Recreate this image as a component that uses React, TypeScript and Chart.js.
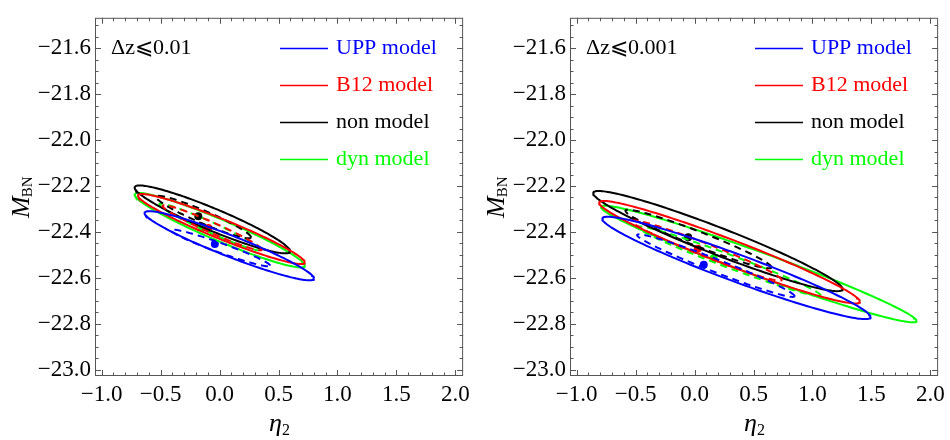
import React, { useEffect, useRef } from "react";
import { Chart, registerables } from "chart.js";

Chart.register(...registerables);

// ---------- data ----------
const xTickValues = [-1.0, -0.5, 0.0, 0.5, 1.0, 1.5, 2.0];
const yTickValues = [-21.6, -21.8, -22.0, -22.2, -22.4, -22.6, -22.8, -23.0];
const xRange = [-1.056, 2.065];
const yRange = [-23.028, -21.467];

const seriesNames = ["UPP model", "B12 model", "non model", "dyn model"];
const seriesColors = ["#0000ff", "#ff0000", "#000000", "#00ff00"];
const panelLabels = ["\u0394z\u2A7D0.01", "\u0394z\u2A7D0.001"];

// contour = [left-extreme η2, left-extreme M, right-extreme η2, right-extreme M, vertical half-height]
// order: UPP, B12, non, dyn
const p1Outer = [
  [-0.636, -22.318, 0.801, -22.603, 0.049],
  [-0.692, -22.242, 0.723, -22.533, 0.046],
  [-0.72, -22.207, 0.597, -22.484, 0.052],
  [-0.72, -22.238, 0.723, -22.547, 0.05],
];
const p1Inner = [
  [-0.412, -22.393, 0.429, -22.547, 0.022],
  [-0.482, -22.287, 0.358, -22.477, 0.025],
  [-0.538, -22.248, 0.266, -22.423, 0.03],
  [-0.51, -22.28, 0.345, -22.477, 0.025],
];
const p1Best = [
  [-0.04, -22.453],
  [-0.096, -22.383],
  [-0.18, -22.332],
  [-0.146, -22.381],
];

const p2Outer = [
  [-0.783, -22.343, 1.492, -22.771, 0.063],
  [-0.81, -22.273, 1.402, -22.704, 0.059],
  [-0.86, -22.231, 1.255, -22.649, 0.063],
  [-0.792, -22.292, 1.882, -22.788, 0.055],
];
const p2Inner = [
  [-0.487, -22.414, 0.848, -22.68, 0.03],
  [-0.532, -22.353, 0.739, -22.609, 0.03],
  [-0.586, -22.308, 0.652, -22.554, 0.034],
  [-0.481, -22.379, 1.07, -22.677, 0.03],
];
const p2Best = [
  [0.078, -22.543],
  [0.027, -22.474],
  [-0.054, -22.423],
  [0.162, -22.515],
];

// ---------- helpers ----------
function contourPoints(e: number[]) {
  const [xl, yl, xr, yr, h] = e;
  const cx = (xl + xr) / 2;
  const cy = (yl + yr) / 2;
  const ux = (xr - xl) / 2;
  const uy = (yr - yl) / 2;
  const pts: { x: number; y: number }[] = [];
  const n = 180;
  for (let i = 0; i <= n; i++) {
    const t = (i / n) * Math.PI * 2;
    pts.push({ x: cx + ux * Math.cos(t), y: cy + uy * Math.cos(t) + h * Math.sin(t) });
  }
  return pts;
}

const fmt = (v: number) => {
  const s = Math.abs(v).toFixed(1);
  return v < -1e-9 ? "\u2212" + s : s;
};

const SERIF = "'Liberation Serif', 'DejaVu Serif', serif";
const FRAME = "#555555";

function makeDecorPlugin(label: string) {
  return {
    id: "decor",
    afterDraw(chart: any) {
      const ctx = chart.ctx as CanvasRenderingContext2D;
      const { left, right, top, bottom } = chart.chartArea;
      const xs = chart.scales.x;
      const ys = chart.scales.y;
      ctx.save();
      // frame
      ctx.strokeStyle = FRAME;
      ctx.lineWidth = 1;
      ctx.strokeRect(left + 0.5, top + 0.5, right - left - 1, bottom - top - 1);
      // inward ticks
      ctx.beginPath();
      for (let k = -10; k <= 20; k++) {
        const v = k / 10;
        const px = Math.round(xs.getPixelForValue(v)) + 0.5;
        if (px < left || px > right) continue;
        const len = k % 5 === 0 ? 6 : 3.5;
        ctx.moveTo(px, bottom);
        ctx.lineTo(px, bottom - len);
        ctx.moveTo(px, top);
        ctx.lineTo(px, top + len);
      }
      for (let k = -460; k <= -429; k++) {
        const v = k / 20;
        const py = Math.round(ys.getPixelForValue(v)) + 0.5;
        if (py < top || py > bottom) continue;
        const len = k % 4 === 0 ? 6 : 3.5;
        ctx.moveTo(left, py);
        ctx.lineTo(left + len, py);
        ctx.moveTo(right, py);
        ctx.lineTo(right - len, py);
      }
      ctx.stroke();

      // panel label
      ctx.fillStyle = "#000";
      ctx.font = `22px ${SERIF}`;
      ctx.textBaseline = "middle";
      ctx.textAlign = "left";
      ctx.fillText(label, left + 16, ys.getPixelForValue(-21.6));

      // legend
      const rowsY = [-21.6, -21.761, -21.922, -22.084];
      for (let i = 0; i < seriesNames.length; i++) {
        const y = Math.round(ys.getPixelForValue(rowsY[i])) + 0.5;
        ctx.strokeStyle = seriesColors[i];
        ctx.lineWidth = 1.6;
        ctx.beginPath();
        ctx.moveTo(left + 185, y);
        ctx.lineTo(left + 233, y);
        ctx.stroke();
        ctx.fillStyle = seriesColors[i];
        ctx.fillText(seriesNames[i], left + 241, y);
      }

      // x title η2
      const cx = (left + right) / 2;
      ctx.fillStyle = "#000";
      ctx.textBaseline = "alphabetic";
      ctx.font = `italic 26px ${SERIF}`;
      const ew = ctx.measureText("\u03B7").width;
      ctx.fillText("\u03B7", cx - 10, 431);
      ctx.font = `16px ${SERIF}`;
      ctx.fillText("2", cx - 10 + ew, 435);

      // y title M_BN
      ctx.save();
      ctx.translate(29, (top + bottom) / 2 + 21);
      ctx.rotate(-Math.PI / 2);
      ctx.font = `italic 26px ${SERIF}`;
      const mw = ctx.measureText("M").width;
      ctx.fillText("M", 0, 0);
      ctx.font = `15px ${SERIF}`;
      ctx.fillText("BN", mw - 1, 3);
      ctx.restore();

      ctx.restore();
    },
  };
}

function Panel(props: { label: string; outer: number[][]; inner: number[][]; best: number[][] }) {
  const ref = useRef<HTMLCanvasElement | null>(null);
  useEffect(() => {
    if (!ref.current) return;
    const datasets: any[] = [];
    for (let i = 0; i < seriesNames.length; i++) {
      datasets.push({
        label: seriesNames[i] + " outer",
        data: contourPoints(props.outer[i]),
        showLine: true,
        borderColor: seriesColors[i],
        borderWidth: 2,
        pointRadius: 0,
        fill: false,
        tension: 0,
      });
      datasets.push({
        label: seriesNames[i] + " inner",
        data: contourPoints(props.inner[i]),
        showLine: true,
        borderColor: seriesColors[i],
        borderWidth: 2,
        borderDash: [7, 5],
        pointRadius: 0,
        fill: false,
        tension: 0,
      });
    }
    for (let i = 0; i < seriesNames.length; i++) {
      datasets.push({
        label: seriesNames[i] + " best",
        data: [{ x: props.best[i][0], y: props.best[i][1] }],
        showLine: false,
        pointRadius: 4,
        pointBorderWidth: 0,
        backgroundColor: seriesColors[i],
        borderColor: seriesColors[i],
      });
    }
    const tickFont = { family: SERIF, size: 23 };
    const chart = new Chart(ref.current, {
      type: "scatter",
      data: { datasets },
      options: {
        animation: false,
        responsive: false,
        devicePixelRatio: 1,
        layout: { padding: { left: 0, right: 9, top: 5, bottom: 0 } },
        plugins: { legend: { display: false }, tooltip: { enabled: false } },
        scales: {
          x: {
            type: "linear",
            min: xRange[0],
            max: xRange[1],
            grid: { display: false, drawTicks: false },
            border: { display: false },
            afterBuildTicks: (s: any) => {
              s.ticks = xTickValues.map((v) => ({ value: v }));
            },
            afterFit: (s: any) => {
              s.height = 64;
            },
            ticks: {
              autoSkip: false,
              maxRotation: 0,
              padding: 5,
              color: "#000",
              font: tickFont,
              callback: (v: any) => fmt(Number(v)),
            },
          },
          y: {
            type: "linear",
            min: yRange[0],
            max: yRange[1],
            grid: { display: false, drawTicks: false },
            border: { display: false },
            afterBuildTicks: (s: any) => {
              s.ticks = yTickValues.map((v) => ({ value: v }));
            },
            afterFit: (s: any) => {
              s.width = 95;
            },
            ticks: {
              autoSkip: false,
              padding: 4,
              color: "#000",
              font: tickFont,
              callback: (v: any) => fmt(Number(v)),
            },
          },
        },
      } as any,
      plugins: [makeDecorPlugin(props.label)],
    });
    return () => chart.destroy();
  }, []);
  return <canvas ref={ref} width={475} height={440} style={{ display: "block", width: 475, height: 440 }} />;
}

export default function App() {
  return (
    <div
      style={{
        position: "fixed",
        left: 0,
        top: 0,
        width: 950,
        height: 440,
        display: "flex",
        background: "#fff",
      }}
    >
      <Panel label={panelLabels[0]} outer={p1Outer} inner={p1Inner} best={p1Best} />
      <Panel label={panelLabels[1]} outer={p2Outer} inner={p2Inner} best={p2Best} />
    </div>
  );
}
